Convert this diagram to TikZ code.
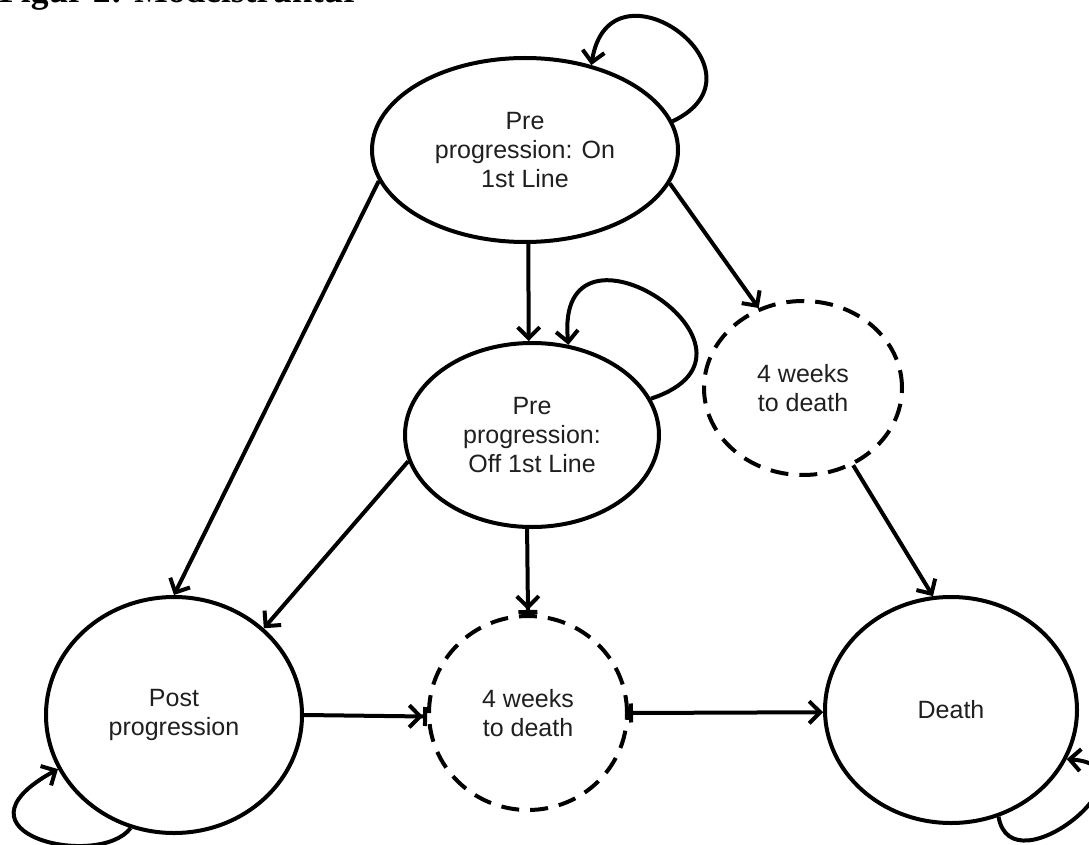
\documentclass[tikz,border=0pt]{standalone}
\usepackage{fontspec}
\setmainfont{Liberation Sans}
\newfontfamily\titlefont{Liberation Serif}
\usetikzlibrary{shapes.geometric,arrows.meta}
\begin{document}
\begin{tikzpicture}[x=1pt,y=-1pt,
  state/.style={ellipse, draw, line width=4pt, inner sep=0pt, align=center,
    text=black!88, font=\fontsize{25}{28.7}\selectfont},
  dstate/.style={state, dash pattern=on 18pt off 11pt},
  conn/.style={line width=4pt},
  arr/.style={conn, -{Straight Barb[length=11pt,width=22pt]}},
  barr/.style={conn, -{Straight Barb[length=11pt,width=22pt]Bar[width=19pt]}},
  sbarr/.style={conn, {Bar[width=19pt]}-{Straight Barb[length=11pt,width=22pt]}},
  titlestyle/.style={anchor=base west, inner sep=0pt, font=\titlefont\bfseries\fontsize{35.5}{40}\selectfont}
]
\useasboundingbox (0,0) rectangle (1089,845);
\clip (0,0) rectangle (1089,845);

\node[titlestyle] (title) at (-1,2.5) {Figur 2: Modelstruktur};

\node[state, minimum width=306pt, minimum height=184pt] (T) at (525,150) {Pre\\progression: On\\1st Line};
\node[state, minimum width=254pt, minimum height=184pt] (M) at (532,435) {Pre\\progression:\\Off 1st Line};
\node[dstate, minimum width=198pt, minimum height=174pt] (R) at (803,388) {4 weeks\\to death};
\node[state, minimum width=256pt, minimum height=236pt] (P) at (174,715) {Post\\progression};
\node[dstate, minimum width=198pt, minimum height=194pt] (B) at (528,713) {4 weeks\\to death};
\node[state, minimum width=252pt, minimum height=226pt] (D) at (951,710) {Death};

% transitions
\draw[arr] (T.-88) -- (M.92.5);
\draw[arr] (T.-13.8) -- (R.119.4);
\draw[arr] (T.192.2) -- (P.90.5);
\draw[arr] (M.192.3) -- (P.44);
\draw[barr] (M.267.5) -- (B.90);
\draw[barr] (P.-0.9) -- (B.182.3);
\draw[sbarr] (B.0) -- (D.181);
\draw[arr] (R.-57.7) -- (D.99.5);

% self loops
\draw[arr] (T.11.5) .. controls +(104,-50) and +(18,-114) .. (T.52.4);
\draw[arr] (M.17.8) .. controls +(143,-47) and +(-15,-149) .. (M.68);
\draw[arr] (P.249.6) .. controls +(-32,42) and +(-117,64) .. (P.205.6);
\draw[arr] (D.-66.3) .. controls +(13,75) and +(97,7) .. (D.-23.5);
\end{tikzpicture}
\end{document}
